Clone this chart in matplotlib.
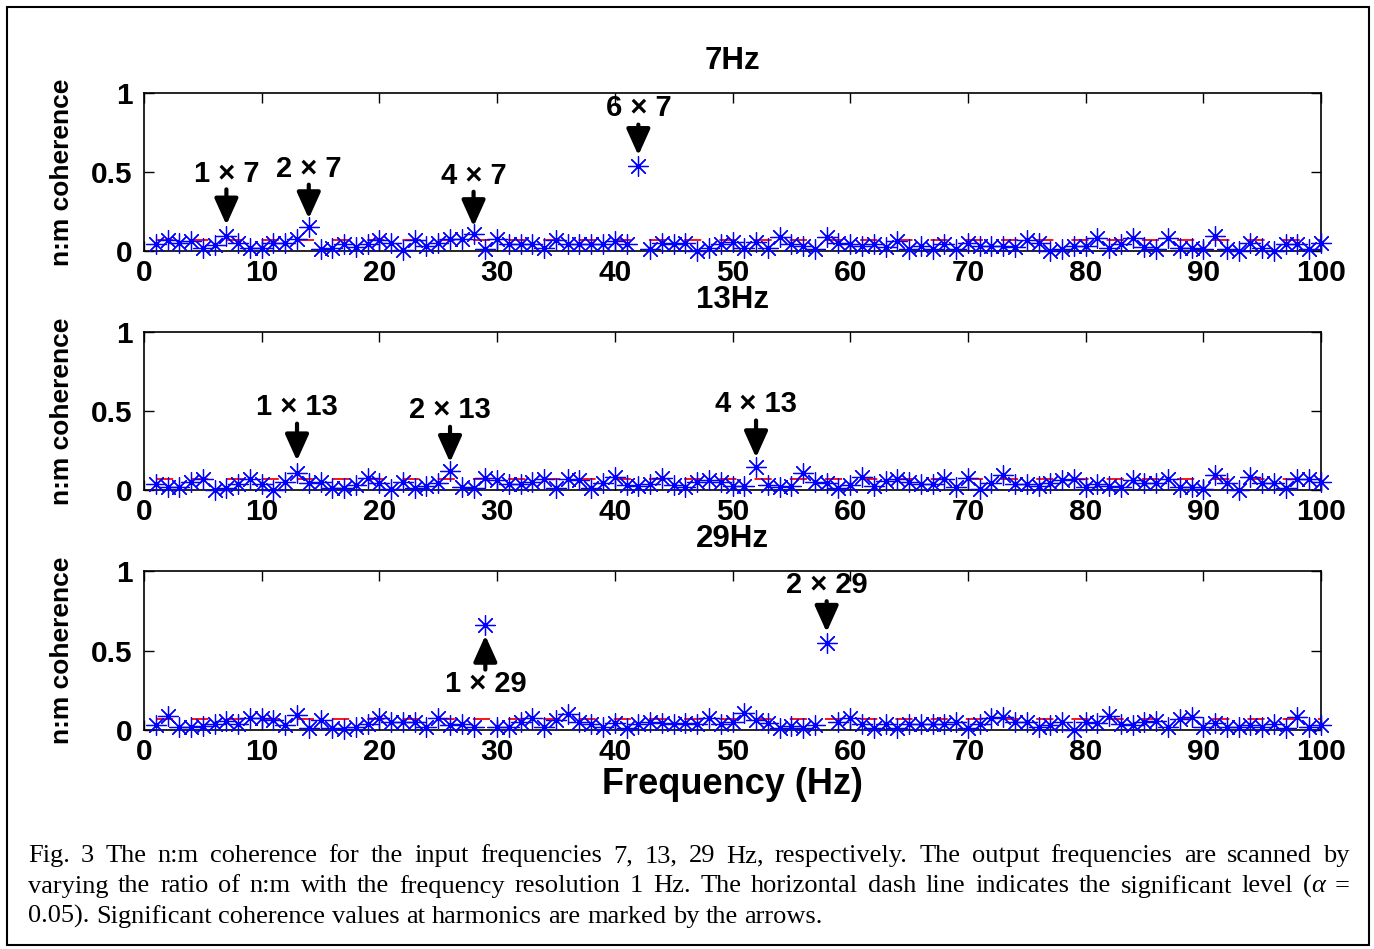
import matplotlib
matplotlib.use('Agg')
import matplotlib.pyplot as plt
from matplotlib.patches import Rectangle
import numpy as np

# ---------------- data ----------------
freq = np.arange(1, 101)

coh_7 = [0.042, 0.068, 0.053, 0.063, 0.021, 0.036, 0.095, 0.053, 0.021, 0.021,
         0.053, 0.053, 0.074, 0.152, 0.015, 0.021, 0.046, 0.025, 0.042, 0.068,
         0.053, 0.006, 0.068, 0.032, 0.053, 0.074, 0.074, 0.105, 0.015, 0.074,
         0.046, 0.046, 0.046, 0.021, 0.068, 0.042, 0.042, 0.042, 0.042, 0.063,
         0.042, 0.540, 0.011, 0.053, 0.046, 0.053, 0.000, 0.021, 0.042, 0.059,
         0.021, 0.059, 0.021, 0.089, 0.046, 0.032, 0.015, 0.089, 0.053, 0.042,
         0.032, 0.042, 0.025, 0.063, 0.015, 0.032, 0.015, 0.046, 0.015, 0.053,
         0.032, 0.032, 0.032, 0.025, 0.068, 0.053, 0.000, 0.011, 0.032, 0.032,
         0.080, 0.017, 0.046, 0.084, 0.025, 0.011, 0.080, 0.021, 0.021, 0.015,
         0.095, 0.011, 0.000, 0.053, 0.021, 0.000, 0.046, 0.042, 0.011, 0.053]

coh_13 = [0.036, 0.021, 0.021, 0.053, 0.068, 0.000, 0.015, 0.036, 0.068, 0.036,
          0.000, 0.053, 0.105, 0.046, 0.053, 0.015, 0.011, 0.032, 0.078, 0.046,
          0.004, 0.053, 0.015, 0.025, 0.046, 0.120, 0.021, 0.011, 0.078, 0.063,
          0.036, 0.036, 0.053, 0.068, 0.015, 0.068, 0.063, 0.015, 0.046, 0.084,
          0.032, 0.025, 0.036, 0.078, 0.032, 0.021, 0.053, 0.063, 0.053, 0.025,
          0.025, 0.146, 0.032, 0.021, 0.025, 0.110, 0.053, 0.042, 0.011, 0.032,
          0.084, 0.025, 0.057, 0.068, 0.053, 0.036, 0.036, 0.068, 0.021, 0.074,
          0.004, 0.046, 0.095, 0.036, 0.036, 0.025, 0.042, 0.063, 0.068, 0.021,
          0.036, 0.025, 0.021, 0.063, 0.046, 0.046, 0.068, 0.021, 0.021, 0.004,
          0.095, 0.046, 0.000, 0.080, 0.042, 0.042, 0.011, 0.068, 0.068, 0.053]

coh_29 = [0.032, 0.091, 0.021, 0.017, 0.027, 0.038, 0.059, 0.038, 0.074, 0.074,
          0.063, 0.032, 0.095, 0.011, 0.063, 0.011, 0.006, 0.021, 0.038, 0.074,
          0.049, 0.049, 0.049, 0.021, 0.074, 0.032, 0.038, 0.017, 0.660, 0.017,
          0.021, 0.049, 0.074, 0.017, 0.063, 0.100, 0.049, 0.038, 0.017, 0.042,
          0.011, 0.038, 0.049, 0.042, 0.038, 0.042, 0.038, 0.074, 0.038, 0.049,
          0.105, 0.063, 0.042, 0.011, 0.027, 0.011, 0.032, 0.546, 0.049, 0.074,
          0.038, 0.011, 0.038, 0.011, 0.038, 0.038, 0.038, 0.038, 0.049, 0.011,
          0.038, 0.074, 0.084, 0.049, 0.049, 0.017, 0.032, 0.053, 0.000, 0.049,
          0.042, 0.091, 0.038, 0.032, 0.049, 0.059, 0.021, 0.070, 0.084, 0.017,
          0.042, 0.017, 0.017, 0.032, 0.017, 0.038, 0.011, 0.084, 0.021, 0.032]

sig_level = 0.07
panel_titles = ['7Hz', '13Hz', '29Hz']
series = [coh_7, coh_13, coh_29]

# harmonic annotations: (multiplier, base frequency)
harm_7 = [(1, 7), (2, 7), (4, 7), (6, 7)]
harm_13 = [(1, 13), (2, 13), (4, 13)]
harm_29 = [(1, 29), (2, 29)]

xticks = [0, 10, 20, 30, 40, 50, 60, 70, 80, 90, 100]
yticks = [0, 0.5, 1]
ytick_labels = ['0', '0.5', '1']

caption_lines = [
    "Fig. 3 The n:m coherence for the input frequencies 7, 13, 29 Hz, respectively. The output frequencies are scanned by",
    "varying the ratio of n:m with the frequency resolution 1 Hz. The horizontal dash line indicates the significant level (α =",
    "0.05). Significant coherence values at harmonics are marked by the arrows.",
]

# ---------------- figure ----------------
W, H = 1374, 949
DPI = 100
fig = plt.figure(figsize=(W / DPI, H / DPI), dpi=DPI)
fig.patch.set_facecolor('white')

SANS = 'Liberation Sans'
SERIF = 'Liberation Serif'

# outer border
fig.patches.append(Rectangle((7 / W, 1 - 945 / H), (1369 - 7) / W, (945 - 7) / H,
                             transform=fig.transFigure, fill=False,
                             edgecolor='black', linewidth=1.5))

left, right = 144, 1321
panels_px = [(93, 251), (332, 490), (571, 730)]

# annotation layouts per panel: (harmonic, text_y, arrow_start, arrow_tip)
ann_layout = [
    [(harm_7[0], 0.49, 0.39, 0.165), (harm_7[1], 0.52, 0.42, 0.205),
     (harm_7[2], 0.475, 0.375, 0.155), (harm_7[3], 0.905, 0.80, 0.605)],
    [(harm_13[0], 0.525, 0.42, 0.185), (harm_13[1], 0.505, 0.40, 0.175),
     (harm_13[2], 0.545, 0.44, 0.205)],
    [(harm_29[0], 0.29, 0.38, 0.595), (harm_29[1], 0.915, 0.81, 0.615)],
]

axes = []
for i, (top, bot) in enumerate(panels_px):
    ax = fig.add_axes([left / W, 1 - bot / H, (right - left) / W, (bot - top) / H])
    axes.append(ax)
    # significance dashed line
    ax.plot(freq, np.full(len(freq), sig_level), color='red', lw=1.3,
            linestyle=(0, (9.5, 10)), dash_capstyle='butt', zorder=2)
    ax.plot(freq, series[i], linestyle='none', marker=(8, 2, 0), markersize=14.5,
            markeredgewidth=0.9, color='blue', zorder=3, clip_on=False)
    ax.set_xlim(0, 100)
    ax.set_ylim(0, 1)
    ax.set_xticks(xticks)
    ax.set_xticklabels([str(t) for t in xticks])
    ax.set_yticks(yticks)
    ax.set_yticklabels(ytick_labels)
    ax.tick_params(direction='in', length=7, width=1.0, top=True, right=True,
                   labelsize=21.5, pad=6)
    ax.tick_params(axis='y', pad=8)
    for lab in ax.get_xticklabels() + ax.get_yticklabels():
        lab.set_fontfamily(SANS)
        lab.set_fontweight('bold')
    for sp in ax.spines.values():
        sp.set_linewidth(1.2)
    ax.text(0.5, 1 + 32 / 158, panel_titles[i], transform=ax.transAxes,
            ha='center', va='center', fontsize=22.5, fontweight='bold', family=SANS)
    ax.text(-82 / 1177, 0.5, 'n:m coherence', transform=ax.transAxes, rotation=90,
            ha='center', va='center', fontsize=19, fontweight='bold', family=SANS)
    for (mult, base), ty, ya, yb in ann_layout[i]:
        hx = mult * base
        ax.text(hx, ty, f'{mult} × {base}', ha='center', va='center', fontsize=21,
                fontweight='bold', family=SANS, zorder=5)
        ax.annotate('', xy=(hx, yb), xytext=(hx, ya),
                    arrowprops=dict(arrowstyle='-|>,head_length=0.8,head_width=0.36',
                                    lw=3.0, color='black', shrinkA=0, shrinkB=0,
                                    mutation_scale=20), zorder=5)

fig.text(732 / W, 1 - 785 / H, 'Frequency (Hz)', ha='center', va='center',
         fontsize=26, fontweight='bold', family=SANS)

# ---------------- caption (justified) ----------------
cap_size = 19
x0, x1 = 28, 1350
baselines = [862, 892.5, 923]
fig.canvas.draw()
renderer = fig.canvas.get_renderer()


def split_word(word):
    if 'α' in word:
        segs = []
        for part in word.split('α'):
            if segs:
                segs.append(('α', 'italic'))
            if part:
                segs.append((part, 'normal'))
        return segs
    return [(word, 'normal')]


for li, line in enumerate(caption_lines):
    justify = li < len(caption_lines) - 1
    yb = 1 - baselines[li] / H
    word_objs = []
    for w in line.split(' '):
        segs = []
        for s, style in split_word(w):
            t = fig.text(0, yb, s, fontsize=cap_size, family=SERIF, style=style,
                         ha='left', va='baseline')
            wpx = t.get_window_extent(renderer).width
            segs.append((t, wpx))
        word_objs.append(segs)
    widths = [sum(wp for _, wp in segs) for segs in word_objs]
    if justify:
        gap = (x1 - x0 - sum(widths)) / (len(widths) - 1)
    else:
        gap = 0.25 * cap_size * DPI / 72
    x = x0
    for segs, wtot in zip(word_objs, widths):
        xs = x
        for t, wp in segs:
            t.set_x(xs / W)
            xs += wp
        x += wtot + gap

fig.savefig('out.png', dpi=DPI, facecolor='white')
